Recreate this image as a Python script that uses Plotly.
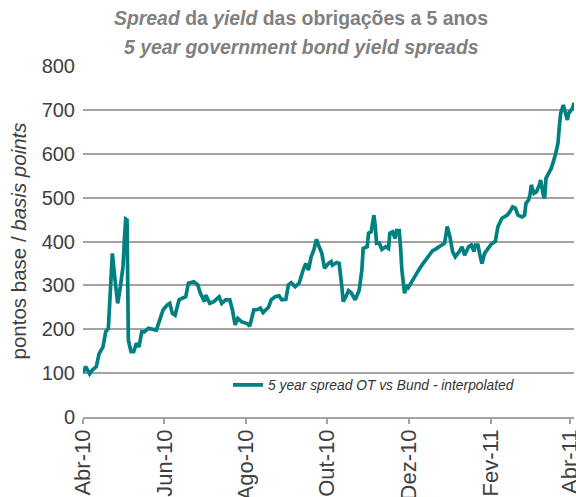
import plotly.graph_objects as go

dates = [
    "2010-04-01", "2010-04-03", "2010-04-06", "2010-04-08", "2010-04-11", "2010-04-13",
    "2010-04-16", "2010-04-18", "2010-04-20", "2010-04-23", "2010-04-25", "2010-04-27",
    "2010-04-29", "2010-05-01", "2010-05-02", "2010-05-03", "2010-05-04", "2010-05-05",
    "2010-05-07", "2010-05-09", "2010-05-11", "2010-05-13", "2010-05-15", "2010-05-17",
    "2010-05-20", "2010-05-26", "2010-05-31", "2010-06-03", "2010-06-05", "2010-06-07",
    "2010-06-09", "2010-06-12", "2010-06-14", "2010-06-17", "2010-06-19", "2010-06-23",
    "2010-06-26", "2010-06-28", "2010-07-01", "2010-07-02", "2010-07-05", "2010-07-08",
    "2010-07-12", "2010-07-14", "2010-07-17", "2010-07-20", "2010-07-22", "2010-07-24",
    "2010-07-26", "2010-07-29", "2010-08-02", "2010-08-04", "2010-08-07", "2010-08-10",
    "2010-08-12", "2010-08-14", "2010-08-18", "2010-08-20", "2010-08-23", "2010-08-26",
    "2010-08-28", "2010-08-31", "2010-09-02", "2010-09-04", "2010-09-07", "2010-09-10",
    "2010-09-13", "2010-09-15", "2010-09-17", "2010-09-19", "2010-09-21", "2010-09-23",
    "2010-09-25", "2010-09-27", "2010-09-29", "2010-10-02", "2010-10-04", "2010-10-05",
    "2010-10-08", "2010-10-10", "2010-10-12", "2010-10-13", "2010-10-15", "2010-10-17",
    "2010-10-19", "2010-10-22", "2010-10-25", "2010-10-27", "2010-10-28", "2010-10-31",
    "2010-11-01", "2010-11-03", "2010-11-05", "2010-11-06", "2010-11-07", "2010-11-09",
    "2010-11-11", "2010-11-14", "2010-11-16", "2010-11-17", "2010-11-19", "2010-11-21",
    "2010-11-22", "2010-11-24", "2010-11-25", "2010-11-26", "2010-11-28", "2010-11-30",
    "2010-12-01", "2010-12-04", "2010-12-06", "2010-12-09", "2010-12-11", "2010-12-14",
    "2010-12-16", "2010-12-19", "2010-12-21", "2010-12-24", "2010-12-26", "2010-12-28",
    "2010-12-30", "2011-01-01", "2011-01-03", "2011-01-05", "2011-01-08", "2011-01-10",
    "2011-01-12", "2011-01-15", "2011-01-17", "2011-01-19", "2011-01-20", "2011-01-22",
    "2011-01-24", "2011-01-25", "2011-01-27", "2011-01-30", "2011-02-01", "2011-02-04",
    "2011-02-06", "2011-02-09", "2011-02-13", "2011-02-15", "2011-02-17", "2011-02-19",
    "2011-02-21", "2011-02-24", "2011-02-26", "2011-02-27", "2011-03-01", "2011-03-02",
    "2011-03-03", "2011-03-05", "2011-03-07", "2011-03-09", "2011-03-10", "2011-03-12",
    "2011-03-13", "2011-03-14", "2011-03-16", "2011-03-18", "2011-03-21", "2011-03-23",
    "2011-03-24", "2011-03-25", "2011-03-27", "2011-03-28", "2011-03-30", "2011-03-31",
    "2011-04-02", "2011-04-03", "2011-04-04",
]

spread_bp = [
    100, 115, 98, 107, 115, 144,
    160, 194, 202, 373, 312, 259,
    297, 343, 403, 451, 449, 175,
    149, 149, 168, 160, 194, 194,
    202, 198, 244, 255, 259, 236,
    232, 267, 270, 274, 305, 308,
    301, 282, 263, 278, 259, 263,
    274, 259, 267, 267, 244, 210,
    225, 217, 213, 207, 244, 245,
    248, 238, 250, 267, 274, 276,
    267, 268, 301, 306, 297, 305,
    335, 350, 335, 365, 381, 405,
    388, 373, 339, 350, 354, 346,
    352, 350, 297, 263, 274, 288,
    283, 267, 289, 335, 384, 388,
    419, 422, 460, 438, 396, 397,
    382, 388, 384, 419, 422, 407,
    425, 425, 388, 335, 282, 301,
    296, 312, 324, 337, 346, 358,
    369, 379, 382, 388, 392, 396,
    434, 411, 377, 365, 377, 388,
    369, 388, 392, 377, 392, 392,
    362, 350, 373, 384, 394, 400,
    434, 453, 460, 468, 479, 476,
    460, 456, 460, 487, 495, 506,
    529, 510, 514, 529, 540, 506,
    498, 544, 555, 567, 597, 624,
    662, 692, 711, 700, 677, 692,
    700, 704, 716,
]

tick_vals = ["2010-04-01", "2010-06-01", "2010-08-01", "2010-10-01",
             "2010-12-01", "2011-02-01", "2011-04-01"]
tick_text = ["Abr-10", "Jun-10", "Ago-10", "Out-10", "Dez-10", "Fev-11", "Abr-11"]
y_ticks = [0, 100, 200, 300, 400, 500, 600, 700, 800]

series_name = "<i>5 year spread OT vs Bund - interpolated</i>"
title_line1 = "<i>Spread</i> da <i>yield</i> das obrigações a 5 anos"
title_line2 = "<i>5 year government bond yield spreads</i>"
y_title = "pontos base / <i>basis points</i>"

FONT = "Liberation Sans, Arial, sans-serif"
TEAL = "#008080"
GRID = "#a3a3a3"

fig = go.Figure()
fig.add_trace(go.Scatter(
    x=dates, y=spread_bp, mode="lines", name=series_name,
    line=dict(color=TEAL, width=3.7), showlegend=True,
))

title_font = dict(family=FONT, size=19.4, color="#808080", weight="bold")

fig.update_layout(
    width=576, height=497,
    margin=dict(l=83, r=2, t=66, b=80, autoexpand=False),
    paper_bgcolor="white", plot_bgcolor="white",
    font=dict(family=FONT, color="#404040"),
    showlegend=True,
    legend=dict(x=(228 - 83) / 491, y=(417 - 385) / 351, xanchor="left", yanchor="middle",
                bgcolor="rgba(0,0,0,0)", borderwidth=0,
                font=dict(family=FONT, size=13.8, color="#333333")),
    xaxis=dict(type="date", range=["2010-04-01", "2011-04-04"], automargin=False,
               tickmode="array", tickvals=tick_vals, ticktext=tick_text,
               tickangle=-90, tickfont=dict(size=22, color="#404040"),
               ticklabelstandoff=-3, ticklabeloverflow="allow",
               showgrid=False, showline=True, linecolor=GRID, linewidth=1.5,
               ticks="outside", ticklen=5, tickcolor=GRID, tickwidth=1.5,
               zeroline=False),
    yaxis=dict(range=[0, 800], tickmode="array", tickvals=y_ticks, automargin=False,
               tickfont=dict(size=20, color="#404040"), ticklabelstandoff=7,
               showgrid=True, gridcolor=GRID, gridwidth=1.5,
               showline=False, zeroline=False, ticks=""),
    annotations=[
        dict(text=title_line1, xref="paper", yref="paper", x=(301 - 83) / 491,
             y=1 + (66 - 18) / 351, xanchor="center", yanchor="middle",
             showarrow=False, font=title_font),
        dict(text=title_line2, xref="paper", yref="paper", x=(301 - 83) / 491,
             y=1 + (66 - 47) / 351, xanchor="center", yanchor="middle",
             showarrow=False, font=title_font),
        dict(text=y_title, xref="paper", yref="paper", x=(18 - 83) / 491,
             y=0.5, xanchor="center", yanchor="middle", textangle=-90,
             showarrow=False, font=dict(family=FONT, size=20.5, color="#404040")),
    ],
    shapes=[dict(type="rect", xref="paper", yref="y", x0=(172 - 83) / 491, x1=1.0,
                 y0=80, y1=120, fillcolor="white", line=dict(width=0),
                 layer="between")],
)

fig.write_html("out.html", config={"displayModeBar": False},
               post_script="document.body.style.margin='0';")
